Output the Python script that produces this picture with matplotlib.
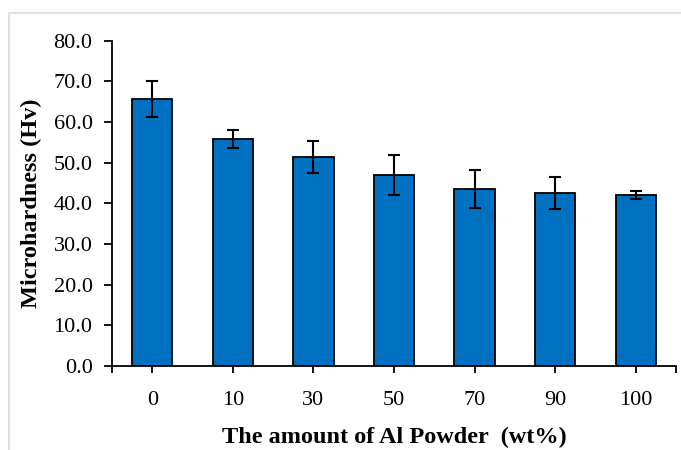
import numpy as np
import matplotlib.pyplot as plt
from matplotlib.lines import Line2D
from matplotlib.ticker import FormatStrFormatter

# Data
categories = ['0', '10', '30', '50', '70', '90', '100']
hardness = [65.6, 55.8, 51.4, 46.9, 43.5, 42.5, 42.0]
errors = [4.4, 2.2, 4.0, 4.9, 4.7, 4.0, 1.0]

plt.rcParams['font.family'] = ['Liberation Serif', 'DejaVu Serif']

W, H = 681, 450
fig = plt.figure(figsize=(W / 100, H / 100), dpi=100)
ax = fig.add_axes([112 / W, 84 / H, 564 / W, 325.3 / H])

# light frame lines (top and left) around the chart area
frame_kw = dict(transform=fig.transFigure, color='#dde2ea', linewidth=1.5)
fig.lines.append(Line2D([9 / W, 1], [1 - 13 / H, 1 - 13 / H], **frame_kw))
fig.lines.append(Line2D([9 / W, 9 / W], [0, 1 - 13 / H], **frame_kw))

x = np.arange(len(categories))
ax.bar(x, hardness, width=0.5, color='#0070C0', edgecolor='black', linewidth=1.3, zorder=2)
ax.errorbar(x, hardness, yerr=errors, fmt='none', ecolor='black', elinewidth=1.5,
            capsize=4.5, capthick=1.5, zorder=3)

ax.set_xlim(-0.5, len(categories) - 0.5)
ax.set_ylim(0, 80)
ax.set_yticks(np.arange(0, 81, 10))
ax.yaxis.set_major_formatter(FormatStrFormatter('%.1f'))
ax.set_xticks(x)
ax.set_xticklabels(categories)
ax.set_xticks([-0.5, len(categories) - 0.5], minor=True)

for s in ['top', 'right']:
    ax.spines[s].set_visible(False)
for s in ['left', 'bottom']:
    ax.spines[s].set_linewidth(1.3)

ax.tick_params(axis='both', which='both', direction='out', width=1.3, labelsize=16)
ax.tick_params(axis='x', which='both', length=5, pad=13)
ax.tick_params(axis='y', length=6, pad=8)

ax.set_xlabel('The amount of Al Powder  (wt%)', fontsize=17.5, fontweight='bold', labelpad=12)
ax.set_ylabel('Microhardness (Hv)', fontsize=17.5, fontweight='bold', labelpad=8)

fig.savefig('out.png', dpi=100)
